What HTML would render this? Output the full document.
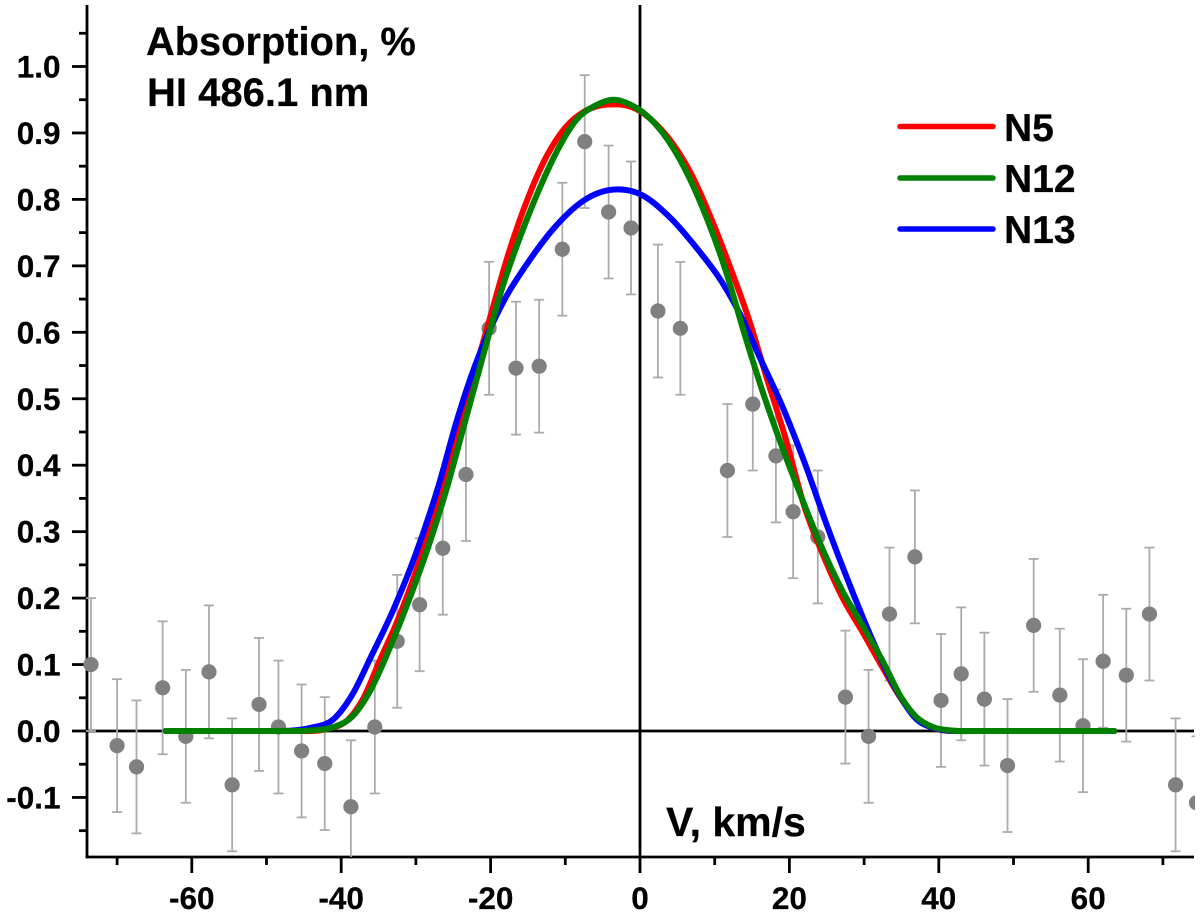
<!DOCTYPE html>
<html lang="en">
<head>
<meta charset="utf-8">
<title>Absorption profile HI 486.1 nm</title>
<style>
html,body{margin:0;padding:0;background:#fff;}
svg{display:block;}
text{font-family:"Liberation Sans",Arial,sans-serif;font-weight:bold;fill:#000;stroke:#000;stroke-width:0.25px;}
</style>
</head>
<body>
<svg id="chart" width="1200" height="917" viewBox="0 0 1200 917" xmlns="http://www.w3.org/2000/svg">
  <defs>
    <clipPath id="plot-clip"><rect x="0" y="0" width="1195" height="857"></rect></clipPath>
  </defs>
  <g id="axes"></g>
  <g id="errors" clip-path="url(#plot-clip)"></g>
  <g id="points" clip-path="url(#plot-clip)"></g>
  <g id="curves"></g>
  <text x="146" y="55" font-size="39.8">Absorption, %</text>
  <text x="147" y="106" font-size="40">HI 486.1 nm</text>
  <text x="666" y="836" font-size="41">V, km/s</text>
  <g>
    <line x1="900" y1="126.5" x2="993" y2="126.5" stroke="#ff0000" stroke-width="5.5" stroke-linecap="round"></line>
    <text x="1004" y="141" font-size="39">N5</text>
    <line x1="900" y1="178" x2="993" y2="178" stroke="#008000" stroke-width="5.5" stroke-linecap="round"></line>
    <text x="1004" y="192" font-size="39">N12</text>
    <line x1="900" y1="229" x2="993" y2="229" stroke="#0000ff" stroke-width="5.5" stroke-linecap="round"></line>
    <text x="1004" y="243" font-size="39">N13</text>
  </g>
</svg>
<script>
const obsV = [-73.5,-70,-67.4,-63.9,-60.8,-57.7,-54.6,-51,-48.4,-45.3,-42.2,-38.7,-35.5,-32.5,-29.5,-26.4,-23.3,-20.2,-16.6,-13.5,-10.4,-7.4,-4.2,-1.2,2.4,5.4,11.7,15.1,18.2,20.5,23.8,27.5,30.6,33.4,36.8,40.3,43,46.1,49.2,52.7,56.2,59.3,62,65.1,68.2,71.7,74.5];
const obsA = [0.1,-0.022,-0.054,0.065,-0.008,0.089,-0.081,0.04,0.006,-0.03,-0.049,-0.114,0.006,0.135,0.19,0.275,0.386,0.606,0.546,0.549,0.725,0.887,0.781,0.757,0.632,0.606,0.392,0.492,0.414,0.33,0.292,0.051,-0.008,0.176,0.262,0.046,0.086,0.048,-0.052,0.159,0.054,0.008,0.105,0.084,0.176,-0.081,-0.108];
const obsError = [0.1,0.1,0.1,0.1,0.1,0.1,0.1,0.1,0.1,0.1,0.1,0.1,0.1,0.1,0.1,0.1,0.1,0.1,0.1,0.1,0.1,0.1,0.1,0.1,0.1,0.1,0.1,0.1,0.1,0.1,0.1,0.1,0.1,0.1,0.1,0.1,0.1,0.1,0.1,0.1,0.1,0.1,0.1,0.1,0.1,0.1,0.1];

const n5V = [-63.5,-46,-42,-39,-37,-34.8,-32.5,-30,-27.5,-25,-22.5,-20,-17.5,-15,-12.5,-10,-7.5,-5,-3,-0.5,2,4.5,7,9.5,12,14.5,17,19.5,22,24.5,27,30,32.5,35,37,39.2,42,63.5];
const n5A = [0,0,0.003,0.018,0.05,0.107,0.165,0.24,0.33,0.425,0.525,0.625,0.722,0.802,0.865,0.908,0.932,0.942,0.943,0.936,0.915,0.882,0.835,0.772,0.7,0.622,0.53,0.44,0.338,0.265,0.203,0.145,0.095,0.048,0.02,0.005,0,0];

const n13V = [-63.5,-48,-44,-41,-38.5,-36,-33,-30,-27,-24.5,-22.5,-20.5,-18,-15,-11.5,-7,-3,0,4,7.5,11,13.5,16,19,22,25,28,31,34,37,39.5,43,63.5];
const n13A = [0,0,0.005,0.018,0.055,0.112,0.183,0.267,0.368,0.468,0.537,0.594,0.652,0.705,0.757,0.802,0.815,0.808,0.773,0.728,0.675,0.625,0.563,0.49,0.405,0.31,0.222,0.14,0.068,0.018,0.004,0,0];

const n12V = [-63.5,-48,-44,-41,-38.5,-36,-33.5,-31,-28.5,-26,-23.5,-21,-18.5,-16,-13.5,-11,-8.5,-6,-3.5,-1,1.5,4,6.5,9,11.5,14,16.5,19,21.5,24,27,30,32.5,35,37,39.2,41.5,45,63.5];
const n12A = [0,0,0.001,0.006,0.022,0.063,0.125,0.195,0.272,0.36,0.462,0.565,0.665,0.745,0.815,0.875,0.92,0.941,0.95,0.941,0.92,0.885,0.835,0.77,0.692,0.597,0.508,0.428,0.355,0.285,0.213,0.155,0.105,0.05,0.021,0.006,0.001,0,0];

const xMajorTicks = [-60,-40,-20,0,20,40,60];
const xMinorTicks = [-70,-50,-30,-10,10,30,50,70];
const yMajorTicks = [-0.1,0,0.1,0.2,0.3,0.4,0.5,0.6,0.7,0.8,0.9,1.0];
const yMinorTicks = [-0.15,-0.05,0.05,0.15,0.25,0.35,0.45,0.55,0.65,0.75,0.85,0.95,1.05];

const NS = 'http://www.w3.org/2000/svg';
function xScale(v){ return 640 + v * 7.47; }
function yScale(a){ return 731 - a * 664.5; }
function mk(parent, tag, attrs){
  const el = document.createElementNS(NS, tag);
  for (const k in attrs) el.setAttribute(k, attrs[k]);
  parent.appendChild(el);
  return el;
}
function smoothPath(vs, as){
  const px = vs.map(xScale), py = as.map(yScale), n = px.length;
  const d = [];
  for (let i = 0; i < n - 1; i++) d.push((py[i+1] - py[i]) / (px[i+1] - px[i]));
  const m = [d[0]];
  for (let i = 1; i < n - 1; i++) {
    if (d[i-1] * d[i] <= 0) { m.push(0); continue; }
    const h0 = px[i] - px[i-1], h1 = px[i+1] - px[i];
    m.push((d[i-1] * h1 + d[i] * h0) / (h0 + h1));
  }
  m.push(d[n-2]);
  let path = 'M' + px[0].toFixed(2) + ' ' + py[0].toFixed(2);
  for (let i = 0; i < n - 1; i++) {
    const h = (px[i+1] - px[i]) / 3;
    path += 'C' + (px[i] + h).toFixed(2) + ' ' + (py[i] + m[i] * h).toFixed(2) + ' ' +
      (px[i+1] - h).toFixed(2) + ' ' + (py[i+1] - m[i+1] * h).toFixed(2) + ' ' +
      px[i+1].toFixed(2) + ' ' + py[i+1].toFixed(2);
  }
  return path;
}

const axes = document.getElementById('axes');
const axisStyle = { stroke: '#000', 'stroke-width': 2.8 };

const yAxisLine = mk(axes, 'line', Object.assign({ x1: 87, y1: 5, x2: 87, y2: 858.4 }, axisStyle));



const xAxisLine = mk(axes, 'line', Object.assign({ x1: 85.6, y1: 857, x2: 1194, y2: 857 }, axisStyle));



const zeroH = mk(axes, 'line', Object.assign({ x1: 87, y1: yScale(0), x2: 1194, y2: yScale(0) }, axisStyle));



const zeroV = mk(axes, 'line', Object.assign({ x1: xScale(0), y1: 5, x2: xScale(0), y2: 857 }, axisStyle));



xMajorTicks.forEach(function(v){
  const t = mk(axes, 'line', Object.assign({ x1: xScale(v), y1: 857, x2: xScale(v), y2: 873 }, axisStyle));
  
  
  const l = mk(axes, 'text', { x: xScale(v), y: 909, 'font-size': 31.5, 'text-anchor': 'middle' });
  
  
  l.textContent = String(v);
});
xMinorTicks.forEach(function(v){
  const t = mk(axes, 'line', Object.assign({ x1: xScale(v), y1: 857, x2: xScale(v), y2: 865 }, axisStyle));
  
  
});
yMajorTicks.forEach(function(a){
  const t = mk(axes, 'line', Object.assign({ x1: 72, y1: yScale(a), x2: 87, y2: yScale(a) }, axisStyle));
  
  
  const l = mk(axes, 'text', { x: 60.5, y: yScale(a) + 11, 'font-size': 31.5, 'text-anchor': 'end' });
  
  
  l.textContent = a.toFixed(1);
});
yMinorTicks.forEach(function(a){
  const t = mk(axes, 'line', Object.assign({ x1: 79, y1: yScale(a), x2: 87, y2: yScale(a) }, axisStyle));
  
  
});

const errG = document.getElementById('errors');
const ptG = document.getElementById('points');
obsV.forEach(function(v, i){
  const x = xScale(v), top = yScale(obsA[i] + obsError[i]), bot = yScale(obsA[i] - obsError[i]);
  const barStyle = { stroke: '#ababab', 'stroke-width': 1.8 };
  const bar = mk(errG, 'line', Object.assign({ x1: x, y1: top, x2: x, y2: bot }, barStyle));
  
  
  const capTop = mk(errG, 'line', Object.assign({ x1: x - 5, y1: top, x2: x + 5, y2: top }, barStyle));
  
  
  const capBot = mk(errG, 'line', Object.assign({ x1: x - 5, y1: bot, x2: x + 5, y2: bot }, barStyle));
  
  
  const pt = mk(ptG, 'circle', { cx: x, cy: yScale(obsA[i]), r: 7.6, fill: '#808080' });
  
  
});

const curveG = document.getElementById('curves');
const curveStyle = { fill: 'none', 'stroke-linecap': 'round', 'stroke-linejoin': 'round' };

const curveN5 = mk(curveG, 'path', Object.assign({ d: smoothPath(n5V, n5A), stroke: '#ff0000', 'stroke-width': 6 }, curveStyle));



const curveN13 = mk(curveG, 'path', Object.assign({ d: smoothPath(n13V, n13A), stroke: '#0000ff', 'stroke-width': 6 }, curveStyle));



const curveN12 = mk(curveG, 'path', Object.assign({ d: smoothPath(n12V, n12A), stroke: '#008000', 'stroke-width': 6 }, curveStyle));


</script>
</body>
</html>
